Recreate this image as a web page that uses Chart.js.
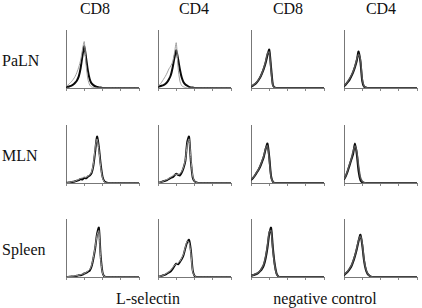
<!DOCTYPE html>
<html>
<head>
<meta charset="utf-8">
<script src="https://cdn.jsdelivr.net/npm/chart.js@4.4.9/dist/chart.umd.min.js"></script>
<style>
  html, body { margin: 0; padding: 0; background: #fff; }
  #wrap { position: relative; width: 422px; height: 308px; overflow: hidden;
          font-family: "Liberation Serif", "DejaVu Serif", serif; color: #111; }
  .lbl { position: absolute; font-size: 16px; line-height: 16px; white-space: nowrap; }
  .ctr { transform: translateX(-50%); }
  canvas { position: absolute; }
</style>
</head>
<body>
<div id="wrap"></div>
<script>
// fluorescence intensity in log decades (10^0 .. 10^4)
const decades = [0, 0.1, 0.2, 0.3, 0.4, 0.5, 0.6, 0.7, 0.8, 0.9, 1.0, 1.1, 1.2, 1.3,
                 1.4, 1.5, 1.6, 1.7, 1.8, 1.9, 2.0, 2.1, 2.2, 2.3, 2.4, 3.0, 4.0];
const xTicks = [0, 1, 2, 3, 4];

const columns = ['CD8', 'CD4', 'CD8', 'CD4'];
const rows = ['PaLN', 'MLN', 'Spleen'];
const groups = ['L-selectin', 'negative control'];

// relative cell counts, black (thick) and grey (thin) histogram per panel
const palnCd8Sel_a = [0.02,0.02,0.03,0.04,0.06,0.09,0.13,0.2,0.34,0.55,0.72,0.52,0.3,0.15,0.08,0.05,0.03,0.02,0.01,0.01,0,0,0,0,0,0,0];
const palnCd8Sel_b = [0.03,0.05,0.08,0.11,0.15,0.2,0.27,0.36,0.48,0.66,0.8,0.4,0.15,0.05,0.02,0.01,0,0,0,0,0,0,0,0,0,0,0];
const palnCd4Sel_a = [0.02,0.03,0.04,0.05,0.07,0.1,0.15,0.22,0.35,0.52,0.65,0.5,0.32,0.18,0.1,0.06,0.04,0.02,0.01,0.01,0,0,0,0,0,0,0];
const palnCd4Sel_b = [0.03,0.06,0.1,0.15,0.2,0.26,0.33,0.38,0.45,0.6,0.78,0.35,0.12,0.04,0.02,0.01,0,0,0,0,0,0,0,0,0,0,0];
const palnCd8Neg_a = [0.02,0.04,0.06,0.09,0.13,0.18,0.25,0.33,0.43,0.56,0.66,0.35,0.05,0.01,0,0,0,0,0,0,0,0,0,0,0,0,0];
const palnCd8Neg_b = [0.03,0.05,0.07,0.1,0.14,0.19,0.26,0.35,0.46,0.6,0.62,0.3,0.04,0.01,0,0,0,0,0,0,0,0,0,0,0,0,0];
const palnCd4Neg_a = [0.03,0.06,0.1,0.14,0.2,0.27,0.36,0.47,0.63,0.45,0.12,0.02,0.01,0,0,0,0,0,0,0,0,0,0,0,0,0,0];
const palnCd4Neg_b = [0.04,0.07,0.11,0.16,0.22,0.29,0.38,0.5,0.58,0.5,0.16,0.03,0.01,0,0,0,0,0,0,0,0,0,0,0,0,0,0];

const mlnCd8Sel_a = [0,0.005,0.01,0.015,0.02,0.03,0.04,0.05,0.07,0.06,0.09,0.08,0.11,0.13,0.17,0.3,0.55,0.8,0.62,0.32,0.11,0.03,0.01,0,0,0,0];
const mlnCd8Sel_b = [0,0.005,0.01,0.02,0.025,0.03,0.05,0.06,0.08,0.09,0.1,0.1,0.12,0.14,0.19,0.33,0.6,0.76,0.58,0.28,0.09,0.02,0,0,0,0,0];
const mlnCd4Sel_a = [0,0.01,0.02,0.03,0.04,0.05,0.07,0.09,0.1,0.13,0.16,0.14,0.13,0.18,0.26,0.38,0.7,0.8,0.38,0.1,0.03,0.01,0,0,0,0,0];
const mlnCd4Sel_b = [0,0.01,0.02,0.03,0.05,0.06,0.08,0.1,0.12,0.14,0.15,0.15,0.16,0.2,0.28,0.4,0.66,0.76,0.42,0.12,0.03,0.01,0,0,0,0,0];
const mlnCd8Neg_a = [0.05,0.08,0.12,0.17,0.22,0.28,0.36,0.45,0.58,0.68,0.45,0.12,0.02,0,0,0,0,0,0,0,0,0,0,0,0,0,0];
const mlnCd8Neg_b = [0.06,0.09,0.13,0.18,0.23,0.3,0.38,0.47,0.6,0.64,0.4,0.1,0.02,0,0,0,0,0,0,0,0,0,0,0,0,0,0];
const mlnCd4Neg_a = [0.06,0.12,0.2,0.3,0.4,0.5,0.68,0.5,0.2,0.05,0.01,0,0,0,0,0,0,0,0,0,0,0,0,0,0,0,0];
const mlnCd4Neg_b = [0.07,0.13,0.22,0.32,0.42,0.55,0.64,0.55,0.3,0.1,0.03,0.01,0,0,0,0,0,0,0,0,0,0,0,0,0,0,0];

const splCd8Sel_a = [0,0,0.005,0.01,0.01,0.015,0.02,0.03,0.03,0.04,0.06,0.07,0.09,0.11,0.18,0.32,0.5,0.74,0.85,0.36,0.08,0.01,0,0,0,0,0];
const splCd8Sel_b = [0,0.005,0.01,0.01,0.015,0.02,0.025,0.03,0.04,0.05,0.06,0.08,0.1,0.13,0.2,0.34,0.52,0.72,0.8,0.32,0.07,0.01,0,0,0,0,0];
const splCd4Sel_a = [0,0.01,0.02,0.03,0.04,0.06,0.08,0.1,0.14,0.19,0.23,0.22,0.26,0.31,0.38,0.5,0.6,0.64,0.46,0.12,0.02,0,0,0,0,0,0];
const splCd4Sel_b = [0,0.01,0.02,0.03,0.05,0.07,0.09,0.12,0.16,0.2,0.22,0.24,0.27,0.33,0.4,0.52,0.62,0.6,0.42,0.1,0.02,0,0,0,0,0,0];
const splCd8Neg_a = [0.02,0.03,0.04,0.05,0.07,0.1,0.14,0.2,0.32,0.5,0.74,0.85,0.5,0.22,0.06,0.01,0,0,0,0,0,0,0,0,0,0,0];
const splCd8Neg_b = [0.02,0.03,0.05,0.06,0.08,0.11,0.16,0.23,0.36,0.55,0.78,0.8,0.45,0.2,0.05,0.01,0,0,0,0,0,0,0,0,0,0,0];
const splCd4Neg_a = [0.03,0.06,0.09,0.13,0.18,0.26,0.36,0.48,0.62,0.73,0.55,0.28,0.12,0.05,0.02,0,0,0,0,0,0,0,0,0,0,0,0];
const splCd4Neg_b = [0.04,0.07,0.1,0.15,0.2,0.28,0.38,0.5,0.64,0.7,0.58,0.3,0.14,0.06,0.02,0.01,0,0,0,0,0,0,0,0,0,0,0];

const panels = [
    [palnCd8Sel_a, palnCd8Sel_b], [palnCd4Sel_a, palnCd4Sel_b], [palnCd8Neg_a, palnCd8Neg_b], [palnCd4Neg_a, palnCd4Neg_b],
    [mlnCd8Sel_a, mlnCd8Sel_b], [mlnCd4Sel_a, mlnCd4Sel_b], [mlnCd8Neg_a, mlnCd8Neg_b], [mlnCd4Neg_a, mlnCd4Neg_b],
    [splCd8Sel_a, splCd8Sel_b], [splCd4Sel_a, splCd4Sel_b], [splCd8Neg_a, splCd8Neg_b], [splCd4Neg_a, splCd4Neg_b]
];

// layout (page pixels): y axis position of each column, top of each row
const colX = [66, 158, 251, 344];
const rowTop = [30, 125, 219];
const plotW = 73, plotH = 58;
const pad = { left: 2, top: 2, right: 4 };
const tickLen = 3;

const wrap = document.getElementById('wrap');

function addLabel(text, x, y, centered) {
    const d = document.createElement('div');
    d.className = 'lbl' + (centered ? ' ctr' : '');
    d.textContent = text;
    d.style.left = x + 'px';
    d.style.top = y + 'px';
    wrap.appendChild(d);
}

// column headers, row names, group captions
const headerX = [95, 194, 288, 381];
columns.forEach((c, i) => addLabel(c, headerX[i], 1, true));
const rowLabelY = [53, 148, 242];
rows.forEach((r, i) => addLabel(r, 2, rowLabelY[i], false));
addLabel(groups[0], 148, 291, true);
addLabel(groups[1], 325, 291, true);

function toPoints(ys) {
    return decades.map((d, i) => ({ x: d, y: ys[i] }));
}

panels.forEach((series, idx) => {
    const r = Math.floor(idx / 4), c = idx % 4;
    const isNeg = c >= 2;
    const canvas = document.createElement('canvas');
    canvas.width = plotW + pad.left + pad.right;
    canvas.height = plotH + pad.top + tickLen;
    canvas.style.left = (colX[c] - pad.left) + 'px';
    canvas.style.top = (rowTop[r] - pad.top) + 'px';
    wrap.appendChild(canvas);

    new Chart(canvas.getContext('2d'), {
        type: 'line',
        data: {
            datasets: [{
                label: 'grey',
                data: toPoints(series[1]),
                borderColor: isNeg ? '#555' : '#a0a0a0',
                borderWidth: isNeg ? 1.5 : 1,
                pointRadius: 0,
                tension: 0.25
            }, {
                label: 'black',
                data: toPoints(series[0]),
                borderColor: '#0a0a0a',
                borderWidth: 2,
                pointRadius: 0,
                tension: 0.25
            }]
        },
        options: {
            responsive: false,
            animation: false,
            layout: { padding: { left: pad.left, top: pad.top, right: pad.right, bottom: 0 } },
            plugins: { legend: { display: false }, tooltip: { enabled: false } },
            scales: {
                x: {
                    type: 'linear',
                    min: 0,
                    max: 4,
                    afterBuildTicks: (s) => { s.ticks = xTicks.map(v => ({ value: v })); },
                    ticks: { display: false },
                    grid: { drawOnChartArea: false, drawTicks: true, tickLength: tickLen, color: '#888' },
                    border: { color: '#777', width: 1 }
                },
                y: {
                    min: 0,
                    max: 1,
                    ticks: { display: false },
                    grid: { display: false, drawTicks: false },
                    border: { color: '#777', width: 1 }
                }
            }
        }
    });
});
</script>
</body>
</html>
